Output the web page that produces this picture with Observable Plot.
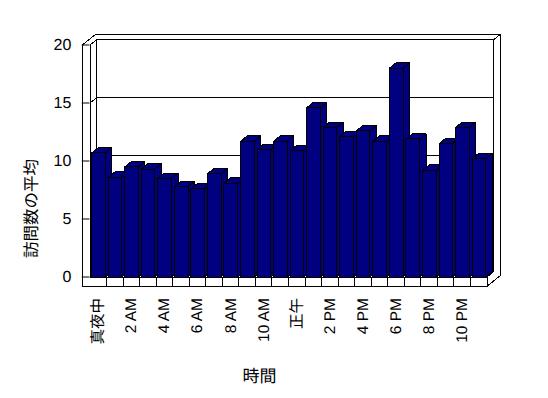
<!DOCTYPE html>
<html>
<head>
<meta charset="utf-8">
<script src="https://cdn.jsdelivr.net/npm/d3@7"></script>
<script src="https://cdn.jsdelivr.net/npm/@observablehq/plot@0.6"></script>
<style>
  html, body { margin: 0; padding: 0; background: #fff; }
  svg { display: block; }
  svg text { text-rendering: geometricPrecision; }
</style>
</head>
<body>
<div id="chart"></div>
<script>
// ---- data ----
const hours = ["真夜中","1 AM","2 AM","3 AM","4 AM","5 AM","6 AM","7 AM","8 AM","9 AM","10 AM","11 AM",
               "正午","1 PM","2 PM","3 PM","4 PM","5 PM","6 PM","7 PM","8 PM","9 PM","10 PM","11 PM"];
const visits = [10.7, 8.6, 9.5, 9.3, 8.5, 7.8, 7.6, 8.9, 8.1, 11.7, 11.0, 11.7,
                10.9, 14.6, 12.9, 12.1, 12.6, 11.7, 18.0, 11.9, 9.2, 11.5, 12.9, 10.2];
const yTicks = [0, 5, 10, 15, 20];
const xTickLabels = ["真夜中","2 AM","4 AM","6 AM","8 AM","10 AM","正午","2 PM","4 PM","6 PM","8 PM","10 PM"];
const yTitle = "訪問数の平均";
const xTitle = "時間";

(function () {
// ---- layout ----
const W = 548, H = 398;
const pLeft = 89.5, pRight = 486.5, pTop = 44.5, pBottom = 276.5;
const n = hours.length, yMax = 20;
const kx = (pRight - pLeft) / n, ky = (pBottom - pTop) / yMax;
const DX = 6.6 / kx, DY = 5.3 / ky;        // one depth step, in data units
const WALL = 7.7 / kx, FLOOR = 9.3 / ky;   // wall / floor thickness
const P = (x, y, d) => ({x: x + d * DX, y: y + d * DY});
const ux = px => (px - pLeft) / kx;        // pixel -> data helpers for titles
const uy = py => (pBottom - py) / ky;

// bar polygons (side, top, front per bar, drawn left to right)
const polys = [];
visits.forEach((v, i) => {
  const x0 = i + 0.1, x1 = i + 0.925;
  const faces = [
    [P(x1,0,0), P(x1,v,0), P(x1,v,1), P(x1,0,1)],
    [P(x0,v,0), P(x1,v,0), P(x1,v,1), P(x0,v,1)],
    [P(x0,0,0), P(x1,0,0), P(x1,v,0), P(x0,v,0)]
  ];
  faces.forEach((f, j) => f.forEach(p => polys.push({...p, id: `b${i}-${j}`})));
});

// frame lines behind bars
const backLines = [];
const seg = (id, pts) => pts.forEach(p => backLines.push({...p, id}));
seg("bwl", [P(0,yMax,1), P(0,0,1)]);
seg("bwt", [P(0,yMax,1), P(n,yMax,1)]);
seg("bwr", [P(n,yMax,1), P(n,0,1)]);
yTicks.filter(t => t > 0 && t < yMax).forEach(t => seg("g" + t, [P(0,t,0), P(0,t,1), P(n,t,1)]));
seg("lwtop", [P(0,yMax,0), P(0,yMax,1)]);
seg("outerTop", [P(-WALL,yMax,0), P(-WALL,yMax,2), P(n,yMax,2)]);
seg("bwTopR", [P(n,yMax,1), P(n,yMax,2)]);
seg("bwRight", [P(n,yMax,2), P(n,-FLOOR,2)]);
seg("floorR1", [P(n,0,0), P(n,0,1)]);
seg("floorR2", [P(n,-FLOOR,0), P(n,-FLOOR,2)]);

// front lines (left wall front face, floor front face)
const frontLines = [];
const segF = (id, pts) => pts.forEach(p => frontLines.push({...p, id}));
segF("lwOuter", [P(-WALL,yMax,0), P(-WALL,-FLOOR,0)]);
segF("lwInner", [P(0,yMax,0), P(0,0,0)]);
segF("floorTop", [P(0,0,0), P(n,0,0)]);
segF("floorBot", [P(-WALL,-FLOOR,0), P(n,-FLOOR,0)]);
for (let i = 1; i <= n; i++) segF("ft" + i, [P(i,0,0), P(i,-FLOOR,0)]);

const xTickPos = xTickLabels.map((_, k) => k * 2 + 0.5);

const lineStyle = {x: "x", y: "y", z: "id", stroke: "black", strokeWidth: 1, curve: "linear", shapeRendering: "crispEdges"};
const cjk = "'Noto Sans CJK JP', sans-serif";

const chart = Plot.plot({
  width: W, height: H,
  marginLeft: pLeft, marginRight: W - pRight, marginTop: pTop, marginBottom: H - pBottom,
  x: {domain: [0, n], axis: null},
  y: {domain: [0, yMax], axis: null},
  style: {background: "white", fontFamily: "'Liberation Sans', Arial, 'Noto Sans CJK JP', sans-serif", fontSize: "16px", color: "black"},
  marks: [
    Plot.line(backLines, lineStyle),
    Plot.line(polys, {x: "x", y: "y", z: "id", fill: "#000080", stroke: "black", strokeWidth: 1,
                      curve: "linear-closed", strokeLinejoin: "miter", shapeRendering: "crispEdges"}),
    Plot.line(frontLines, lineStyle),
    Plot.axisY({ticks: yTicks, tickSize: 7.7, tickPadding: 11, fontSize: 16, stroke: "black",
                fill: "black", label: null, tickFormat: d => String(d)}),
    Plot.text(xTickLabels, {x: xTickPos, y: d => 0, text: d => d, dy: 21, rotate: -90,
                            textAnchor: "end", lineAnchor: "middle", fontSize: 15.5, fill: "black"}),
    Plot.text([yTitle], {x: d => ux(31), y: d => uy(208), rotate: -90, text: d => d,
                         textAnchor: "middle", lineAnchor: "middle",
                         fontSize: 16.5, fill: "black", fontFamily: cjk}),
    Plot.text([xTitle], {x: d => ux(259), y: d => uy(376), text: d => d,
                         textAnchor: "middle", lineAnchor: "middle",
                         fontSize: 17, fill: "black", fontFamily: cjk})
  ]
});
document.getElementById("chart").appendChild(chart);
})();
</script>
</body>
</html>
